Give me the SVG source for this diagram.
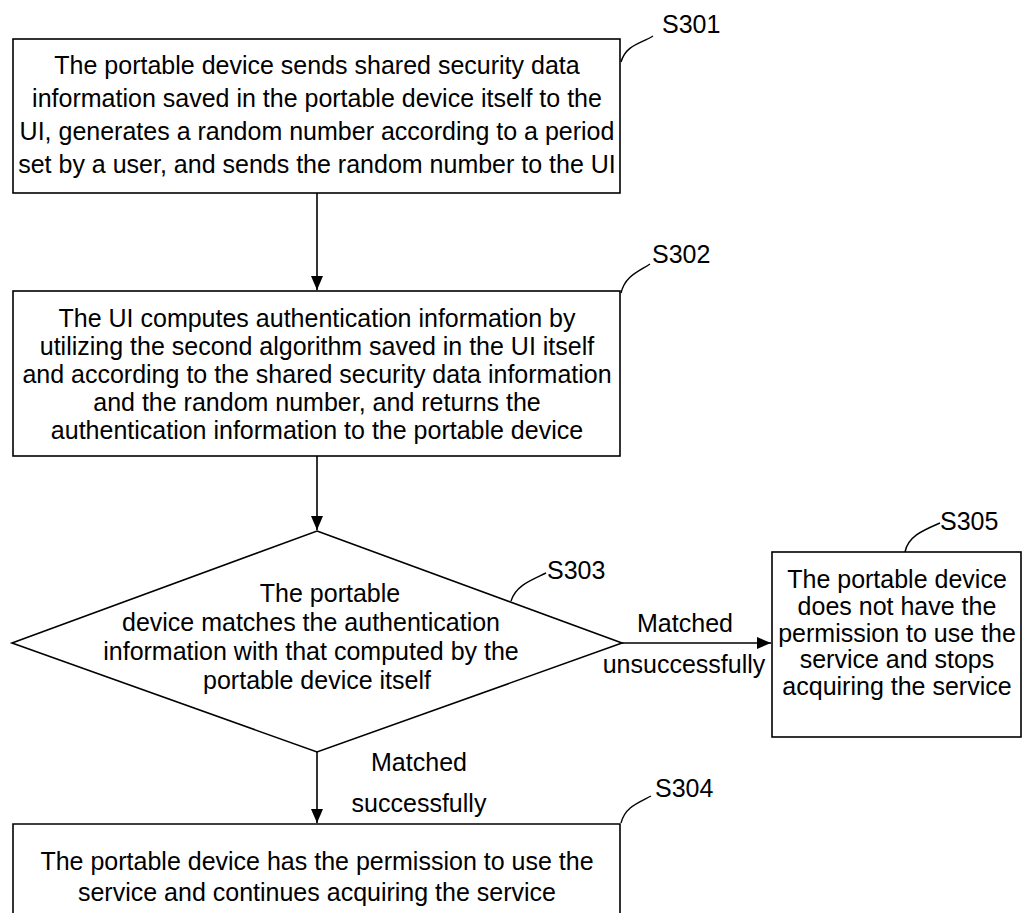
<svg xmlns="http://www.w3.org/2000/svg" width="1026" height="913" viewBox="0 0 1026 913">
<style>
  .box { fill: #fff; stroke: #000; stroke-width: 1.6; }
  .ln { fill: none; stroke: #000; stroke-width: 1.6; }
  .lead { fill: none; stroke: #000; stroke-width: 1.4; }
  text { font-family: "Liberation Sans", Arial, sans-serif; font-size: 25px; fill: #000; }
  .c { text-anchor: middle; }
</style>
<defs>
  <marker id="arr" markerUnits="userSpaceOnUse" markerWidth="14" markerHeight="12" refX="14" refY="6" orient="auto">
    <path d="M0,0 L14,6 L0,12 z" fill="#000"/>
  </marker>
</defs>
<rect width="1026" height="913" fill="#fff"/>

<g id="connectors">
  <line class="ln" x1="317" y1="193" x2="317" y2="290" marker-end="url(#arr)"/>
  <line class="ln" x1="317" y1="456" x2="317" y2="530" marker-end="url(#arr)"/>
  <line class="ln" x1="622" y1="643" x2="771" y2="643" marker-end="url(#arr)"/>
  <line class="ln" x1="317" y1="752" x2="317" y2="823" marker-end="url(#arr)"/>
  <text class="c" x="685" y="632">Matched</text>
  <text class="c" x="684" y="673">unsuccessfully</text>
  <text class="c" x="419" y="771">Matched</text>
  <text class="c" x="419" y="812">successfully</text>
</g>

<g id="S301">
  <rect class="box" x="13" y="39" width="607" height="154"/>
  <text class="c" x="317" y="74">The portable device sends shared security data</text>
  <text class="c" x="317" y="107">information saved in the portable device itself to the</text>
  <text class="c" x="317" y="140">UI, generates a random number according to a period</text>
  <text class="c" x="317" y="173">set by a user, and sends the random number to the UI</text>
  <path class="lead" d="M621,62 C626,45 640,44 653,36"/>
  <text x="662" y="33">S301</text>
</g>

<g id="S302">
  <rect class="box" x="13" y="291" width="607" height="165"/>
  <text class="c" x="317" y="327">The UI computes authentication information by</text>
  <text class="c" x="317" y="355">utilizing the second algorithm saved in the UI itself</text>
  <text class="c" x="317" y="383">and according to the shared security data information</text>
  <text class="c" x="317" y="411">and the random number, and returns the</text>
  <text class="c" x="317" y="439">authentication information to the portable device</text>
  <path class="lead" d="M621,293 C625,276 638,272 650,264"/>
  <text x="652" y="263">S302</text>
</g>

<g id="S303">
  <polygon class="box" points="317,531 622,643 317,752 12,643"/>
  <text class="c" x="330" y="602">The portable</text>
  <text class="c" x="311" y="631">device matches the authentication</text>
  <text class="c" x="311" y="660">information with that computed by the</text>
  <text class="c" x="317" y="689">portable device itself</text>
  <path class="lead" d="M511,601 C516,585 532,580 546,573"/>
  <text x="547" y="579">S303</text>
</g>

<g id="S305">
  <rect class="box" x="772" y="552" width="249" height="185"/>
  <text class="c" x="897" y="588">The portable device</text>
  <text class="c" x="897" y="615">does not have the</text>
  <text class="c" x="897" y="642">permission to use the</text>
  <text class="c" x="897" y="668">service and stops</text>
  <text class="c" x="897" y="695">acquiring the service</text>
  <path class="lead" d="M905,552 C908,536 924,530 940,523"/>
  <text x="940" y="530">S305</text>
</g>

<g id="S304">
  <path class="ln" d="M13,913 L13,824 L620,824 L620,913"/>
  <text class="c" x="317" y="870">The portable device has the permission to use the</text>
  <text class="c" x="317" y="901">service and continues acquiring the service</text>
  <path class="lead" d="M621,823 C625,807 638,803 651,796"/>
  <text x="655" y="797">S304</text>
</g>
</svg>
